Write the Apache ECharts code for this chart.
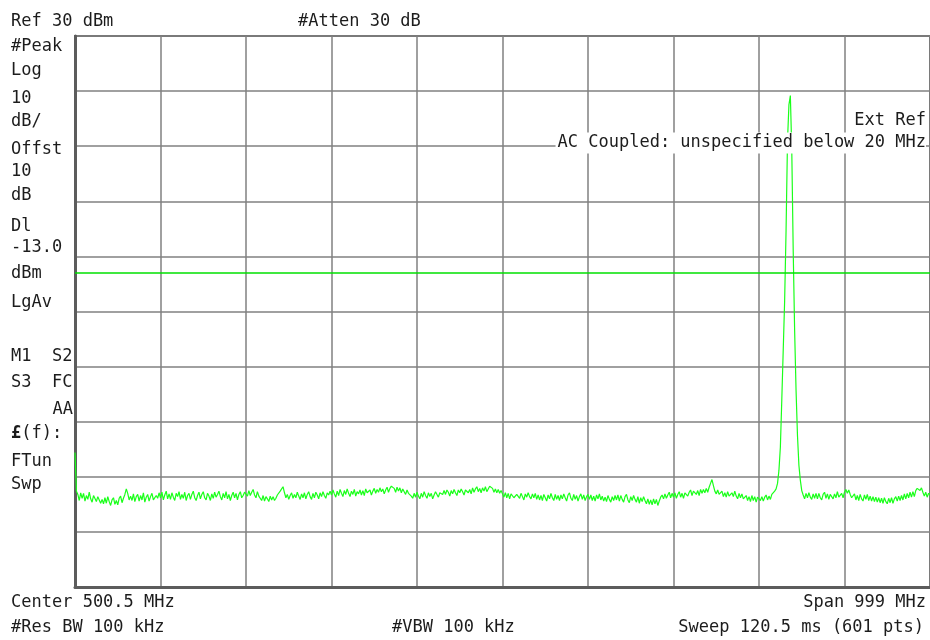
<!DOCTYPE html>
<html>
<head>
<meta charset="utf-8">
<title>Spectrum</title>
<script src="https://cdn.jsdelivr.net/npm/echarts@6/dist/echarts.min.js"></script>
<style>
  html, body { margin: 0; padding: 0; background: #fff; }
  #main { width: 930px; height: 640px; }
</style>
</head>
<body>
<div id="main"></div>
<script>
// sweep setup
var startMHz = 1, stopMHz = 1000, nPoints = 601;
var refLevel = 30, bottomLevel = -70, dbPerDiv = 10;
var displayLine = -13;

// trace, dBm, one value per sweep point
var trace = [
  -45.6, -52.6, -53.2, -54.3, -52.9, -53.9, -53.0, -54.4, -53.4, -54.1, -52.8, -54.0, -54.6, -53.4, -53.1, -54.5, -53.6, -54.2, -54.8, -54.1,
  -54.9, -53.8, -54.8, -53.6, -54.5, -55.2, -54.2, -53.8, -55.0, -54.3, -55.1, -53.9, -53.5, -54.7, -53.9, -53.2, -52.2, -53.0, -54.2, -53.5,
  -54.3, -53.1, -54.5, -53.6, -53.2, -54.4, -53.4, -54.2, -52.9, -54.6, -53.7, -53.2, -54.4, -53.6, -53.0, -54.2, -54.5, -53.4, -53.9, -52.9,
  -53.8, -52.8, -54.2, -53.3, -52.6, -54.0, -53.1, -54.1, -52.9, -53.7, -54.3, -53.0, -53.6, -52.7, -54.1, -53.2, -53.9, -52.8, -54.3, -53.4,
  -53.0, -54.1, -53.2, -52.6, -53.8, -54.3, -53.4, -52.8, -54.0, -53.2, -52.7, -53.8, -54.2, -53.0, -53.5, -54.3, -53.1, -53.9, -52.8, -53.7,
  -53.2, -52.6, -53.6, -54.2, -53.0, -53.8, -52.7, -54.0, -53.2, -54.3, -53.4, -52.8, -53.8, -53.0, -54.2, -53.2, -52.7, -53.8, -53.4, -52.8,
  -52.7, -53.5, -52.5, -53.4, -52.8, -52.3, -53.3, -53.8, -52.7, -53.5, -53.8, -54.3, -53.4, -54.4, -53.6, -54.0, -54.5, -53.5, -54.2, -53.6,
  -54.3, -53.9, -53.3, -53.0, -52.6, -52.2, -51.8, -52.9, -53.8, -53.2, -54.1, -53.4, -52.9, -53.9, -53.2, -53.8, -52.8, -53.5, -54.1, -53.1,
  -53.8, -52.9, -54.0, -53.2, -52.7, -53.6, -54.1, -53.0, -53.8, -52.8, -53.3, -54.0, -52.9, -53.6, -52.7, -53.4, -53.9, -52.9, -53.3, -52.6,
  -53.3, -52.4, -53.1, -53.7, -52.6, -53.4, -52.3, -53.0, -53.6, -52.5, -53.2, -52.2, -53.0, -53.6, -52.6, -53.2, -52.3, -53.5, -52.7, -53.1,
  -52.4, -53.3, -52.5, -53.4, -52.2, -52.9, -53.2, -52.4, -53.3, -52.6, -52.1, -53.0, -52.3, -52.8, -52.0, -52.7, -52.2, -53.1, -52.4, -51.9,
  -52.8, -52.1, -51.7, -51.4, -52.1, -52.8, -51.9, -52.6, -52.0, -52.9, -52.2, -52.7, -53.2, -52.4, -53.0, -53.1, -53.5, -53.9, -53.0, -53.7,
  -52.8, -53.5, -54.0, -53.0, -53.7, -52.7, -53.4, -53.9, -52.9, -53.6, -53.0, -54.0, -53.3, -52.7, -53.2, -53.7, -52.9, -52.6, -53.2, -52.5,
  -53.2, -52.4, -52.8, -53.5, -52.5, -53.1, -52.3, -52.9, -53.4, -52.4, -52.9, -52.2, -52.7, -53.3, -52.4, -52.1, -52.9, -52.3, -53.1, -52.0,
  -52.8, -52.2, -51.8, -52.7, -52.1, -52.9, -52.0, -52.6, -51.8, -52.7, -52.2, -51.7, -51.5, -52.1, -52.8, -52.2, -52.9, -52.3, -53.0, -52.5,
  -53.1, -53.7, -52.9, -53.8, -53.0, -54.0, -53.1, -52.8, -53.8, -54.1, -53.2, -52.9, -53.9, -53.0, -53.6, -54.2, -53.1, -53.7, -52.9, -53.6,
  -54.0, -53.1, -53.8, -53.0, -54.1, -53.3, -54.2, -53.4, -54.3, -53.2, -53.8, -54.4, -53.3, -54.0, -53.0, -53.8, -54.3, -53.2, -54.1, -53.4,
  -54.3, -53.3, -54.0, -53.1, -53.8, -54.4, -53.3, -52.9, -53.9, -54.3, -53.2, -54.1, -53.4, -54.4, -53.6, -53.1, -54.1, -53.3, -54.3, -53.6,
  -53.2, -54.1, -53.3, -54.3, -53.5, -54.4, -53.3, -54.0, -53.1, -54.2, -53.5, -54.4, -53.7, -54.5, -53.4, -54.1, -54.6, -53.6, -54.3, -53.4,
  -54.2, -53.3, -54.4, -53.4, -54.1, -54.6, -53.6, -53.2, -54.2, -54.7, -53.6, -54.3, -53.4, -54.1, -54.6, -53.6, -54.8, -53.8, -54.5, -53.6,
  -54.3, -54.9, -54.0, -55.0, -54.2, -55.1, -54.0, -54.9, -54.1, -55.2, -54.4, -53.7, -53.3, -54.0, -53.1, -53.9, -53.3, -52.8, -53.8, -53.0,
  -53.7, -52.9, -53.9, -53.2, -52.7, -53.7, -53.0, -53.9, -52.9, -52.6, -53.5, -52.8, -52.4, -53.4, -52.6, -52.3, -53.2, -52.5, -53.4, -52.3,
  -53.0, -52.3, -52.9, -52.1, -52.8, -51.9, -51.2, -50.5, -51.6, -52.6, -53.1, -52.4, -53.2, -53.5, -52.6, -53.6, -52.9, -53.7, -52.7, -53.5,
  -53.8, -52.9, -53.6, -52.6, -53.5, -54.0, -53.0, -53.8, -53.1, -54.0, -54.2, -53.4, -54.3, -53.6, -54.5, -53.4, -54.3, -53.6, -54.6, -53.7,
  -53.4, -54.3, -53.6, -54.4, -53.7, -53.3, -54.2, -53.5, -54.1, -53.2, -53.0, -52.6, -52.2, -51.2, -48.8, -44.6, -36.0, -27.0, -18.0, -5.2,
  11.0, 17.5, 19.2, 9.3, -8.9, -23.4, -34.3, -42.5, -47.9, -50.6, -52.5, -53.3, -54.0, -53.0, -53.8, -52.9, -53.7, -54.1, -53.1, -53.9,
  -53.0, -54.0, -53.0, -53.8, -54.2, -53.2, -52.8, -53.9, -53.1, -54.1, -53.2, -52.9, -54.0, -53.1, -53.8, -52.7, -53.7, -54.0, -53.0, -53.8,
  -52.8, -52.3, -53.0, -52.4, -53.2, -53.8, -54.1, -53.1, -54.2, -53.4, -54.3, -53.2, -54.0, -54.4, -53.3, -54.1, -53.2, -54.3, -53.5, -54.4,
  -53.6, -54.5, -53.7, -54.6, -53.8, -54.7, -53.9, -54.8, -53.8, -54.5, -54.9, -53.9, -54.7, -53.8, -54.8, -54.0, -53.6, -54.4, -53.5, -54.3,
  -53.4, -54.2, -53.1, -54.0, -53.0, -53.8, -52.8, -53.7, -52.7, -53.6, -52.5, -52.1, -51.8, -52.5, -52.0, -52.8, -53.5, -52.8, -53.7, -53.0,
  -53.3
];

// annotation text lines down the left of the screen
var sideLabels = [
  ['#Peak', 47], ['Log', 71], ['10', 99], ['dB/', 122], ['Offst', 150],
  ['10', 172], ['dB', 196], ['Dl', 227], ['-13.0', 248], ['dBm', 274],
  ['LgAv', 303], ['M1  S2', 357], ['S3  FC', 383]
];

var freqs = [];
for (var i = 0; i < nPoints; i++) {
  freqs.push((startMHz + i * (stopMHz - startMHz) / (nPoints - 1)).toFixed(2));
}

var FONT = '17px "DejaVu Sans Mono"';
var INK = '#1c1c1c';

function txt(s, x, y, align, extra) {
  var st = { text: s, font: FONT, fill: INK, textAlign: align || 'left', textVerticalAlign: 'middle' };
  if (extra) for (var k in extra) st[k] = extra[k];
  return { type: 'text', x: x, y: y, z: 100, silent: true, style: st };
}

var graphics = [
  txt('Ref 30 dBm', 11, 22),
  txt('#Atten 30 dB', 298, 22),
  txt('Ext Ref', 926, 121, 'right', { backgroundColor: '#fff', padding: [1, 0, 1, 2] }),
  txt('AC Coupled: unspecified below 20 MHz', 926, 143, 'right', { backgroundColor: '#fff', padding: [2, 0, 2, 2] }),
  txt('AA', 73, 410, 'right'),
  { type: 'text', x: 11, y: 434, z: 100, silent: true,
    style: { text: '{b|£}(f):', font: FONT, fill: INK, textVerticalAlign: 'middle',
             rich: { b: { font: 'bold 17px "DejaVu Sans Mono"', fill: INK } } } },
  txt('FTun', 11, 462),
  txt('Swp', 11, 485),
  txt('Center 500.5 MHz', 11, 603),
  txt('#Res BW 100 kHz', 11, 628),
  txt('#VBW 100 kHz', 392, 628),
  txt('Span 999 MHz', 926, 603, 'right'),
  txt('Sweep 120.5 ms (601 pts)', 924, 628, 'right')
];
sideLabels.forEach(function (s) { graphics.push(txt(s[0], 11, s[1])); });

var chart = echarts.init(document.getElementById('main'));
chart.setOption({
  animation: false,
  backgroundColor: '#fff',
  grid: {
    left: 75, right: -2, top: 36, bottom: 53,
    show: true, borderColor: '#6a6a6a', borderWidth: 2
  },
  xAxis: {
    type: 'category',
    data: freqs,
    boundaryGap: false,
    axisLabel: { show: false },
    axisTick: { show: false },
    axisLine: { show: true, onZero: false, lineStyle: { color: '#5c5c5c', width: 3 } },
    splitLine: {
      show: true,
      interval: function (idx) { return idx % 60 === 0; },
      lineStyle: { color: '#808080', width: 1.5 }
    }
  },
  yAxis: {
    type: 'value',
    min: bottomLevel, max: refLevel, interval: dbPerDiv,
    axisLabel: { show: false },
    axisTick: { show: false },
    axisLine: { show: true, onZero: false, lineStyle: { color: '#5c5c5c', width: 3 } },
    splitLine: { show: true, lineStyle: { color: '#808080', width: 1.5 } }
  },
  graphic: graphics,
  series: [{
    type: 'line',
    data: trace,
    symbol: 'none',
    silent: true,
    lineStyle: { color: '#1aff1a', width: 1.2 },
    markLine: {
      symbol: 'none',
      silent: true,
      label: { show: false },
      lineStyle: { color: '#00e000', type: 'solid', width: 1.5 },
      data: [{ yAxis: displayLine }]
    }
  }]
});
</script>
</body>
</html>
